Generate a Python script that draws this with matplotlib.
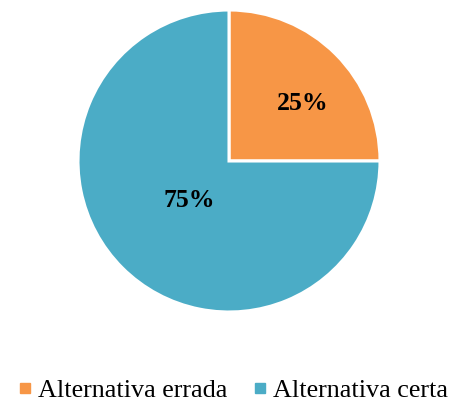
import matplotlib.pyplot as plt
import numpy as np
from matplotlib.lines import Line2D

labels = ["Alternativa errada", "Alternativa certa"]
values = [25, 75]
colors = ["#F79646", "#4BACC6"]
pct_dist = [0.62, 0.37]
pct_shift = [-7, 0]

plt.rcParams['font.family'] = ['Liberation Serif', 'DejaVu Serif']

fig = plt.figure(figsize=(4.55, 4.03), dpi=100)
ax = fig.add_axes([78 / 455, 91 / 403, 302 / 455, 302 / 403])

wedges, texts = ax.pie(values, colors=colors, startangle=90, counterclock=False,
                       radius=1, wedgeprops=dict(edgecolor="white", linewidth=2.2))
ax.set_xlim(-1, 1)
ax.set_ylim(-1, 1)
ax.set_aspect("equal")
ax.axis("off")

for w, v, d, s in zip(wedges, values, pct_dist, pct_shift):
    ang = np.deg2rad((w.theta1 + w.theta2) / 2 + s)
    ax.text(d * np.cos(ang), d * np.sin(ang), f"{v}%", ha="center", va="center",
            fontsize=18.5, fontweight="bold", color="black")

handles = [Line2D([], [], marker="s", linestyle="", color=c, markersize=6.5) for c in colors]
fig.legend(handles, labels, loc="center", bbox_to_anchor=(0.505, 0.032), ncol=2,
           frameon=False, fontsize=18.8, handletextpad=0.0, columnspacing=0.75,
           handlelength=1.0, borderaxespad=0)

fig.savefig("out.png", dpi=100)
